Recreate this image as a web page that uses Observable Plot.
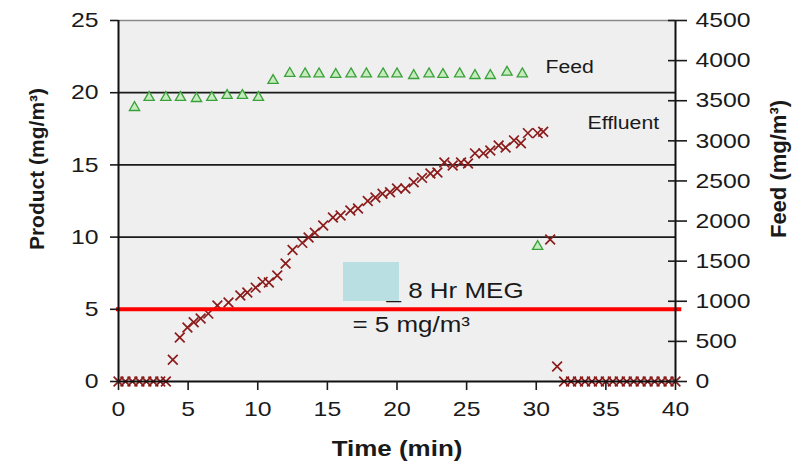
<!DOCTYPE html>
<html><head><meta charset="utf-8">
<script src="https://cdn.jsdelivr.net/npm/d3@7"></script>
<script src="https://cdn.jsdelivr.net/npm/@observablehq/plot@0.6"></script>
<style>body{margin:0;background:#fff} svg{display:block}</style>
</head><body><div id="chart"></div>
<script>
// Effluent product concentration (mg/m3) vs time (min)
const effTime = [0,0.5,1,1.5,2,2.5,3,3.4,3.9,4.4,4.95,5.4,5.9,6.45,7.1,7.9,8.75,9.25,9.85,10.35,10.8,11.4,12.0,12.5,13.2,13.65,14.1,14.7,15.4,15.95,16.65,17.2,17.9,18.45,18.96,19.5,20.0,20.6,21.2,21.8,22.4,22.9,23.4,24.0,24.6,25.1,25.6,26.2,26.7,27.3,27.8,28.4,28.9,29.4,30.1,30.5,31.0,31.5,32,32.5,33,33.5,34,34.5,35,35.5,36,36.5,37,37.5,38,38.5,39,39.5,40];
const effValue = [0,0,0,0,0,0,0,0,1.5,3.05,3.74,4.1,4.36,4.7,5.26,5.47,5.96,6.16,6.5,6.9,6.85,7.34,8.17,9.1,9.6,9.97,10.3,10.8,11.36,11.5,11.84,11.98,12.5,12.74,13.0,13.1,13.37,13.37,13.8,14.1,14.4,14.47,15.17,14.96,15.17,15.1,15.8,15.8,16.0,16.34,16.2,16.7,16.5,17.2,17.2,17.3,9.83,1.04,0,0,0,0,0,0,0,0,0,0,0,0,0,0,0,0,0];
// Feed concentration (mg/m3, secondary axis) vs time (min)
const feedTime = [1.15,2.2,3.4,4.45,5.6,6.7,7.8,8.9,10.05,11.1,12.3,13.4,14.4,15.6,16.7,17.8,19.0,20.0,21.2,22.3,23.3,24.5,25.6,26.7,27.9,29.0,30.1];
const feedValue = [3415,3540,3540,3540,3527,3540,3565,3565,3540,3752,3840,3835,3835,3827,3835,3835,3835,3835,3814,3835,3827,3835,3814,3814,3855,3835,1683];
// Ticks
const xTicks = [0,5,10,15,20,25,30,35,40];
const yTicks = [0,5,10,15,20,25];
const feedTicks = [0,500,1000,1500,2000,2500,3000,3500,4000,4500];
const gridLines = [10,15,20];
const megLimit = [5];
// Annotations
const noteText = ["Feed","Effluent","_ 8 Hr MEG","= 5 mg/m³"];
const noteX = [30.66,33.68,19.25,16.8];
const noteY = [21.33,17.52,5.75,3.46];
const noteSize = [18,18,22,22];
const maskBox = [{x1:16.16,x2:20.18,y1:5.54,y2:8.24}];

const FEED_MAX = 4500, Y_MAX = 25, K = FEED_MAX / Y_MAX;
const eff = effTime.map((t,i)=>({t, v: effValue[i]}));
const feed = feedTime.map((t,i)=>({t, v: feedValue[i] / K}));
const notes = noteText.map((s,i)=>({s, x: noteX[i], y: noteY[i], size: noteSize[i]}));

const chart = Plot.plot({
  width: 808, height: 470,
  marginLeft: 118, marginRight: 133, marginTop: 20, marginBottom: 89,
  style: {fontFamily: "'Liberation Sans', Arial, sans-serif", fontSize: "21px", color: "#1a1a1a", background: "#fff"},
  x: {domain: [0, 40]},
  y: {domain: [0, Y_MAX]},
  marks: [
    Plot.frame({fill: "#efefef", stroke: null}),
    Plot.ruleY(gridLines, {stroke: "#1a1a1a", strokeWidth: 1.7}),
    Plot.ruleY([Y_MAX], {stroke: "#8a8a8a", strokeWidth: 1.5}),
    Plot.dot(feed, {x: "t", y: "v", symbol: "triangle", r: 3.8, stroke: "#3aa03a", strokeWidth: 1.3, fill: "#c6ecbe"}),
    Plot.dot(eff, {x: "t", y: "v", symbol: "times", r: 4.5, stroke: "#8b1c1c", strokeWidth: 1.7}),
    Plot.ruleY(megLimit, {x1: -0.15, x2: 40.45, stroke: "#ff0000", strokeWidth: 4}),
    Plot.ruleX([0], {stroke: "#111", strokeWidth: 2}),
    Plot.ruleX([40], {stroke: "#111", strokeWidth: 2}),
    Plot.ruleY([0], {stroke: "#111", strokeWidth: 2}),
    Plot.axisX({ticks: xTicks, tickSize: 9, tickPadding: 11, label: null, strokeWidth: 1.6, fontSize: 21}),
    Plot.axisY({ticks: yTicks, tickSize: 8, tickPadding: 12, label: null, strokeWidth: 1.6, fontSize: 21}),
    Plot.axisY({anchor: "right", ticks: feedTicks.map(v => v / K), tickFormat: d => String(Math.round(d * K)),
      tickSize: 19, dx: -8, tickPadding: 9, label: null, strokeWidth: 1.6, fontSize: 21}),
    Plot.rect(maskBox, {x1: "x1", x2: "x2", y1: "y1", y2: "y2", fill: "#b9dfe3"}),
    Plot.text(notes, {x: "x", y: "y", text: "s", textAnchor: "start", lineAnchor: "bottom", fontSize: d => d.size, fill: "#1a1a1a"}),
    Plot.text(["Product (mg/m³)"], {frameAnchor: "left", rotate: -90, dx: -89, dy: -32, textAnchor: "middle", lineAnchor: "top", fontWeight: "bold", fontSize: 21}),
    Plot.text(["Feed (mg/m³)"], {frameAnchor: "right", rotate: -90, dx: 95, dy: -32, textAnchor: "middle", lineAnchor: "top", fontWeight: "bold", fontSize: 22}),
    Plot.text(["Time (min)"], {frameAnchor: "bottom", dy: 59, lineAnchor: "top", fontWeight: "bold", fontSize: 22})
  ]
});
document.getElementById("chart").append(chart);
// The reference text is slightly wide; stretch horizontal labels.
const S = 1.18;
chart.querySelectorAll("text").forEach(t => {
  const tr = t.getAttribute("transform") || "";
  if (tr.includes("rotate")) return;
  const len = t.getComputedTextLength();
  if (len > 0) { t.setAttribute("textLength", len * S); t.setAttribute("lengthAdjust", "spacingAndGlyphs"); }
});
</script></body></html>
